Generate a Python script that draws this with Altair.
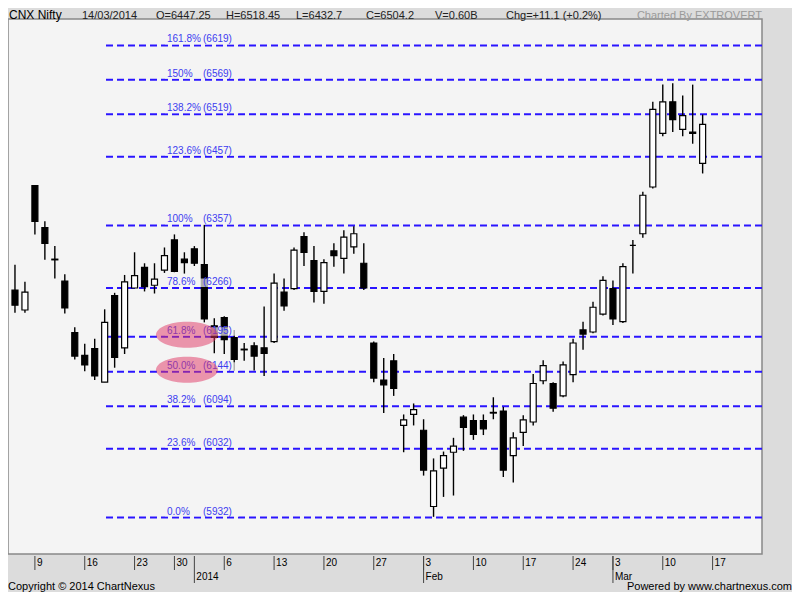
import altair as alt
import pandas as pd

# ---------------- data ----------------
dates = [
    "2013-12-05", "2013-12-06",
    "2013-12-09", "2013-12-10", "2013-12-11", "2013-12-12", "2013-12-13",
    "2013-12-16", "2013-12-17", "2013-12-18", "2013-12-19", "2013-12-20",
    "2013-12-23", "2013-12-24", "2013-12-26", "2013-12-27",
    "2013-12-30", "2013-12-31", "2014-01-01", "2014-01-02", "2014-01-03",
    "2014-01-06", "2014-01-07", "2014-01-08", "2014-01-09", "2014-01-10",
    "2014-01-13", "2014-01-14", "2014-01-15", "2014-01-16", "2014-01-17",
    "2014-01-20", "2014-01-21", "2014-01-22", "2014-01-23", "2014-01-24",
    "2014-01-27", "2014-01-28", "2014-01-29", "2014-01-30", "2014-01-31",
    "2014-02-03", "2014-02-04", "2014-02-05", "2014-02-06", "2014-02-07",
    "2014-02-10", "2014-02-11", "2014-02-12", "2014-02-13", "2014-02-14",
    "2014-02-17", "2014-02-18", "2014-02-19", "2014-02-20", "2014-02-21",
    "2014-02-24", "2014-02-25", "2014-02-26", "2014-02-28",
    "2014-03-03", "2014-03-04", "2014-03-05", "2014-03-06", "2014-03-07",
    "2014-03-10", "2014-03-11", "2014-03-12", "2014-03-13", "2014-03-14",
]
opens = [6263, 6234, 6415, 6354, 6308, 6276, 6201, 6168, 6178, 6129,
         6255, 6179, 6266, 6296, 6270, 6292, 6336, 6308, 6323, 6300,
         6211, 6223, 6194, 6177, 6182, 6179, 6188, 6260, 6265, 6341,
         6306, 6261, 6320, 6309, 6326, 6302, 6186, 6132, 6160, 6066,
         6082, 6059, 5948, 6004, 6027, 6078, 6073, 6073, 6085, 6087,
         6022, 6056, 6071, 6131, 6127, 6109, 6140, 6205, 6202, 6228,
         6265, 6217, 6328, 6345, 6413, 6491, 6537, 6497, 6493, 6447.25]
highs = [6300, 6275, 6415, 6363, 6327, 6286, 6209, 6185, 6192, 6235,
         6259, 6285, 6318, 6302, 6302, 6325, 6344, 6318, 6327, 6358,
         6222, 6225, 6205, 6186, 6187, 6239, 6287, 6280, 6325, 6347,
         6327, 6308, 6331, 6350, 6356, 6331, 6188, 6164, 6170, 6082,
         6098, 6075, 6018, 6028, 6048, 6081, 6082, 6082, 6107, 6093,
         6056, 6081, 6141, 6161, 6129, 6159, 6192, 6217, 6246, 6283,
         6277, 6302, 6336, 6406, 6537, 6562, 6564, 6546, 6562, 6518.45]
lows = [6230, 6230, 6344, 6307, 6280, 6229, 6162, 6145, 6132, 6129,
        6150, 6170, 6266, 6261, 6258, 6288, 6289, 6287, 6298, 6216,
        6171, 6170, 6146, 6160, 6146, 6138, 6186, 6233, 6263, 6298,
        6245, 6243, 6297, 6287, 6316, 6263, 6129, 6084, 6109, 6027,
        6066, 5993, 5933, 5962, 5964, 6029, 6045, 6052, 6075, 5991,
        5983, 6036, 6066, 6126, 6086, 6107, 6129, 6176, 6200, 6226,
        6212, 6215, 6287, 6339, 6411, 6487, 6493, 6487, 6476, 6432.7]
closes = [6241, 6260, 6363, 6331, 6307, 6237, 6167, 6154, 6138, 6216,
          6165, 6275, 6284, 6268, 6279, 6313, 6290, 6303, 6302, 6221,
          6194, 6191, 6162, 6176, 6167, 6171, 6273, 6240, 6321, 6318,
          6261, 6303, 6313, 6340, 6345, 6266, 6135, 6125, 6120, 6074,
          6089, 6001, 6000, 6022, 6036, 6063, 6053, 6061, 6084, 6001,
          6048, 6074, 6127, 6153, 6091, 6154, 6186, 6199, 6238, 6277,
          6221, 6297, 6328, 6401, 6526, 6537, 6511, 6517, 6491, 6504.2]

fib_pcts = ["0.0%", "23.6%", "38.2%", "50.0%", "61.8%", "78.6%",
            "100%", "123.6%", "138.2%", "150%", "161.8%"]
fib_levels = [5932, 6032, 6094, 6144, 6195, 6266, 6357, 6457, 6519, 6569, 6619]
highlighted = ["61.8%", "50.0%"]

week_dates = ["2013-12-09", "2013-12-16", "2013-12-23", "2013-12-30",
              "2014-01-06", "2014-01-13", "2014-01-20", "2014-01-27",
              "2014-02-03", "2014-02-10", "2014-02-17", "2014-02-24",
              "2014-03-03", "2014-03-10", "2014-03-17"]
week_labels = ["9", "16", "23", "30", "6", "13", "20", "27",
               "3", "10", "17", "24", "3", "10", "17"]
month_dates = ["2014-01-01", "2014-02-03", "2014-03-03"]
month_labels = ["2014", "Feb", "Mar"]
y_ticks = list(range(5928, 6657, 26))

header_texts = ["14/03/2014", "O=6447.25", "H=6518.45", "L=6432.7",
                "C=6504.2", "V=0.60B", "Chg=+11.1 (+0.2%)"]
title_text = "CNX Nifty"
credit_text = "Charted By EXTROVERT"
footer_left = "Copyright \u00a9 2014 ChartNexus"
footer_right = "Powered by www.chartnexus.com"

# ---------------- layout ----------------
FONT = "Liberation Sans"
W, H = 754, 535
TOP = 11
header_x = [74, 148, 218, 288, 358, 427, 498]

pos = {d: i for i, d in enumerate(dates)}
def idx(d):
    return pos.get(d, len(dates))

df = pd.DataFrame({"date": dates, "open": opens, "high": highs,
                   "low": lows, "close": closes})
df["i"] = range(len(df))
df["dir"] = ["up" if c >= o else "down" for o, c in zip(opens, closes)]

fib = pd.DataFrame({"pct": fib_pcts, "level": fib_levels})
fib["val"] = ["(%d)" % v for v in fib_levels]
hl = fib[fib["pct"].isin(highlighted)]

weeks = pd.DataFrame({"i": [idx(d) for d in week_dates], "label": week_labels})
months = pd.DataFrame({"i": [idx(d) for d in month_dates], "label": month_labels})

xs = alt.Scale(domain=[-0.198, 74.455], nice=False, zero=False)
ys = alt.Scale(domain=[5878.9, 6657.5], nice=False, zero=False)

x_axis = alt.Axis(values=[idx(d) for d in week_dates], grid=True, gridColor="#e2e2e2",
                  labels=False, ticks=False, domain=False, title=None)
y_axis = alt.Axis(orient="right", values=y_ticks, grid=True, gridColor="#e2e2e2",
                  ticks=False, domain=True, domainColor="#888888",
                  labelFontSize=10.5, labelColor="#000000", labelPadding=3,
                  labelFont=FONT, title=None)

fib_lines = alt.Chart(fib).mark_rule(color="#2a14ff", strokeWidth=2, strokeDash=[7, 4]).encode(
    x=alt.value(98), x2=alt.value(W),
    y=alt.Y("level:Q", scale=ys, axis=y_axis))

wicks = alt.Chart(df).mark_rule(color="black", strokeWidth=1.4).encode(
    x=alt.X("i:Q", scale=xs, axis=x_axis),
    y=alt.Y("low:Q", scale=ys, axis=None), y2="high:Q")

bodies = alt.Chart(df).mark_bar(size=6, stroke="black", strokeWidth=1.2).encode(
    x=alt.X("i:Q", scale=xs, axis=None),
    y=alt.Y("open:Q", scale=ys, axis=None), y2="close:Q",
    color=alt.Color("dir:N", scale=alt.Scale(domain=["up", "down"], range=["white", "black"]),
                    legend=None))

label_boxes = alt.Chart(fib).transform_calculate(
    top="datum.level + 14", bot="datum.level + 1.5"
).mark_rect(fill="#f4f4f4", opacity=0.7).encode(
    x=alt.value(157), x2=alt.value(231),
    y=alt.Y("top:Q", scale=ys, axis=None), y2="bot:Q")

pct_text = alt.Chart(fib).mark_text(align="left", baseline="bottom", dy=-1, fontSize=10,
                                     font=FONT, color="#3c3cf0").encode(
    x=alt.value(159), y=alt.Y("level:Q", scale=ys, axis=None), text="pct:N")
val_text = alt.Chart(fib).mark_text(align="left", baseline="bottom", dy=-1, fontSize=10,
                                     font=FONT, color="#3c3cf0").encode(
    x=alt.value(195), y=alt.Y("level:Q", scale=ys, axis=None), text="val:N")

ellipse_path = "M -1 0 A 1 0.42 0 1 1 1 0 A 1 0.42 0 1 1 -1 0 Z"
ellipses = alt.Chart(hl).transform_calculate(cy="datum.level + 3").mark_point(
    shape=ellipse_path, size=3844, filled=True, fill="#e03462", opacity=0.5, strokeWidth=0
).encode(x=alt.value(179), y=alt.Y("cy:Q", scale=ys, axis=None))

week_ticks = alt.Chart(weeks).mark_rule(color="#444444", strokeWidth=1).encode(
    x=alt.X("i:Q", scale=xs, axis=None), y=alt.value(H + 2), y2=alt.value(H + 16))
week_text = alt.Chart(weeks).mark_text(align="left", baseline="middle", dx=2, fontSize=10,
                                        font=FONT, color="black").encode(
    x=alt.X("i:Q", scale=xs, axis=None), y=alt.value(H + 9), text="label:N")
month_ticks = alt.Chart(months).mark_rule(color="#444444", strokeWidth=1).encode(
    x=alt.X("i:Q", scale=xs, axis=None), y=alt.value(H + 2), y2=alt.value(H + 29))
month_text = alt.Chart(months).mark_text(align="left", baseline="middle", dx=2, fontSize=10,
                                          font=FONT, color="black").encode(
    x=alt.X("i:Q", scale=xs, axis=None), y=alt.value(H + 23), text="label:N")

def label(text, x, y, size=11, color="#222222", align="left"):
    return alt.Chart(pd.DataFrame({"t": [text]})).mark_text(
        align=align, baseline="alphabetic", fontSize=size, font=FONT, color=color
    ).encode(x=alt.value(x), y=alt.value(y), text="t:N")

texts = [label(title_text, 1, 0, size=12, color="#000000")]
for t, x in zip(header_texts, header_x):
    texts.append(label(t, x, -0.5))
texts.append(label(credit_text, W, -0.5, color="#9a9a9a", align="right"))
texts.append(label(footer_left, 0, H + 36, color="#000000"))
texts.append(label(footer_right, 784, H + 36, color="#000000", align="right"))

chart = alt.layer(
    fib_lines, wicks, bodies, label_boxes, pct_text, val_text, ellipses,
    week_ticks, week_text, month_ticks, month_text, *texts
).properties(
    width=W, height=H,
    padding={"left": 0, "top": TOP, "right": 30, "bottom": 584 - TOP - H},
    autosize=alt.AutoSizeParams(type="none"),
    background="#dcdcdc",
).configure_view(fill="#f4f4f4", stroke="#888888", strokeWidth=1.5)

chart.save("out.html", embed_options={"renderer": "svg", "actions": False})
